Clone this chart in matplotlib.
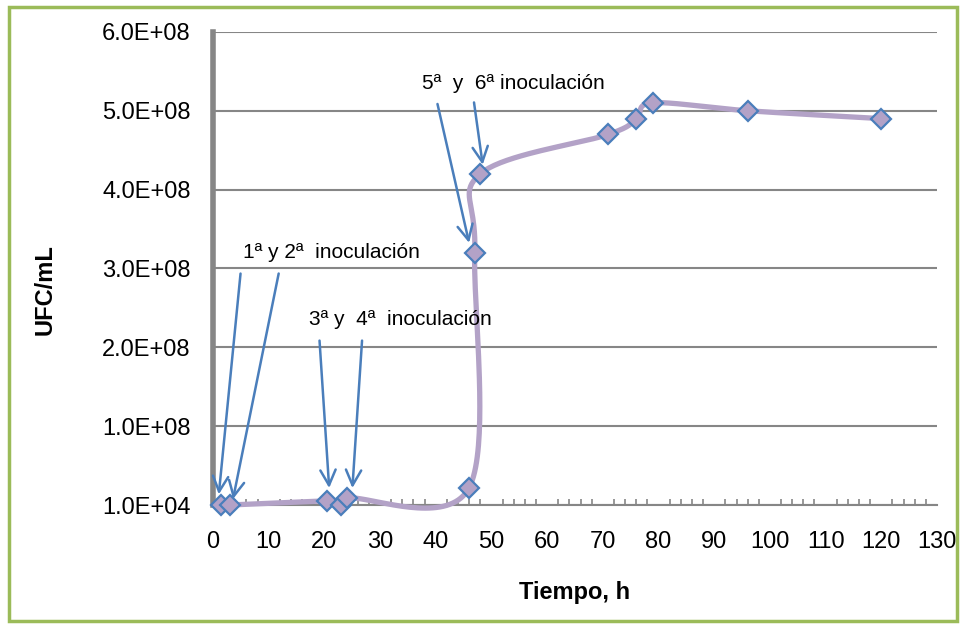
import numpy as np
import matplotlib.pyplot as plt
from matplotlib.patches import Rectangle
from matplotlib.ticker import MultipleLocator, FixedLocator

# Datos
tiempo = [1.5, 3, 20.5, 23, 24, 46, 47, 48, 71, 76, 79, 96, 120]
ufc = [1e4, 1e4, 5e6, 1e4, 9e6, 2.2e7, 3.2e8, 4.2e8, 4.7e8, 4.9e8, 5.1e8, 5.0e8, 4.9e8]

y_ticks = [1e4 + k * 1e8 for k in range(7)]
x_ticks = list(range(0, 131, 10))

# Anotaciones: texto, posicion, y flechas (cola -> punta)
notas = ['1ª y 2ª  inoculación', '3ª y  4ª  inoculación', '5ª  y  6ª inoculación']
notas_xy = [(5.4, 3.2e8), (17.3, 2.35e8), (37.6, 5.34e8)]
flechas_cola = [(5.0, 2.97e8), (11.9, 2.97e8), (19.1, 2.12e8), (26.8, 2.12e8), (40.2, 5.12e8), (46.8, 5.14e8)]
flechas_punta = [(1.0, 0.1e8), (3.5, 0.04e8), (20.9, 0.18e8), (25.0, 0.18e8), (46.1, 3.29e8), (48.5, 4.28e8)]

FONT = ['Liberation Sans Narrow', 'Liberation Sans', 'DejaVu Sans']
FONT_B = ['Liberation Sans', 'DejaVu Sans']


def smooth_curve(xs, ys, n=40):
    # Bezier suavizado tipo Excel (Catmull-Rom)
    p = np.column_stack([xs, ys]).astype(float)
    out = []
    for i in range(len(p) - 1):
        p0 = p[i - 1] if i > 0 else p[i]
        p3 = p[i + 2] if i + 2 < len(p) else p[i + 1]
        c1 = p[i] + (p[i + 1] - p0) / 6
        c2 = p[i + 1] - (p3 - p[i]) / 6
        t = np.linspace(0, 1, n)[:, None]
        seg = ((1 - t) ** 3) * p[i] + 3 * ((1 - t) ** 2) * t * c1 + 3 * (1 - t) * t ** 2 * c2 + t ** 3 * p[i + 1]
        out.append(seg)
    out = np.vstack(out)
    return out[:, 0], out[:, 1]


fig = plt.figure(figsize=(9.68, 6.25), dpi=100)
ax = fig.add_axes([0.220, 0.192, 0.748, 0.757])

sx, sy = smooth_curve(tiempo, ufc)
ax.plot(sx, sy, color='#B3A2C7', lw=3.8, solid_capstyle='round', zorder=3, clip_on=False)
ax.plot(tiempo, ufc, ls='none', marker='D', ms=10.5, mfc='#B3A2C7', mec='#4A7EBB', mew=1.6,
        zorder=4, clip_on=False)

for cola, punta in zip(flechas_cola, flechas_punta):
    ax.annotate('', xy=punta, xytext=cola,
                arrowprops=dict(arrowstyle='->,head_length=1.1,head_width=0.55', color='#4A7EBB', lw=1.8),
                zorder=5)
for txt, xy in zip(notas, notas_xy):
    ax.text(xy[0], xy[1], txt, fontsize=15, family=FONT, va='center', ha='left', zorder=6)

ax.set_xlim(0, 130)
ax.set_ylim(1e4, 6.0001e8)
ax.yaxis.set_major_locator(FixedLocator(y_ticks))
ax.set_yticklabels(['{:.1E}'.format(v) for v in y_ticks], family=FONT, fontsize=17)
ax.set_xticks(x_ticks)
ax.set_xticklabels([str(v) for v in x_ticks], family=FONT, fontsize=17)
ax.xaxis.set_minor_locator(MultipleLocator(2))
ax.tick_params(axis='x', which='major', length=0, pad=19)
ax.tick_params(axis='x', which='minor', direction='in', length=4, width=1.2, color='#868686')
ax.tick_params(axis='y', length=0, pad=16)

ax.grid(axis='y', color='#868686', lw=1.5)
ax.set_axisbelow(True)
for s in ['top', 'right']:
    ax.spines[s].set_visible(False)
ax.spines['left'].set_color('#868686')
ax.spines['left'].set_linewidth(4)
ax.spines['bottom'].set_color('#868686')
ax.spines['bottom'].set_linewidth(1.5)

fig.text(45 / 968, 1 - 290 / 625, 'UFC/mL', rotation=90, fontsize=17, fontweight='bold',
         family=FONT_B, ha='center', va='center')
fig.text(575 / 968, 1 - 593 / 625, 'Tiempo, h', fontsize=17, fontweight='bold',
         family=FONT_B, ha='center', va='center')

fig.patches.append(Rectangle((9 / 968, 1 - 621 / 625), 948 / 968, 614 / 625, transform=fig.transFigure,
                             fill=False, edgecolor='#9BBB59', lw=2.5))

fig.savefig('out.png', dpi=100)
